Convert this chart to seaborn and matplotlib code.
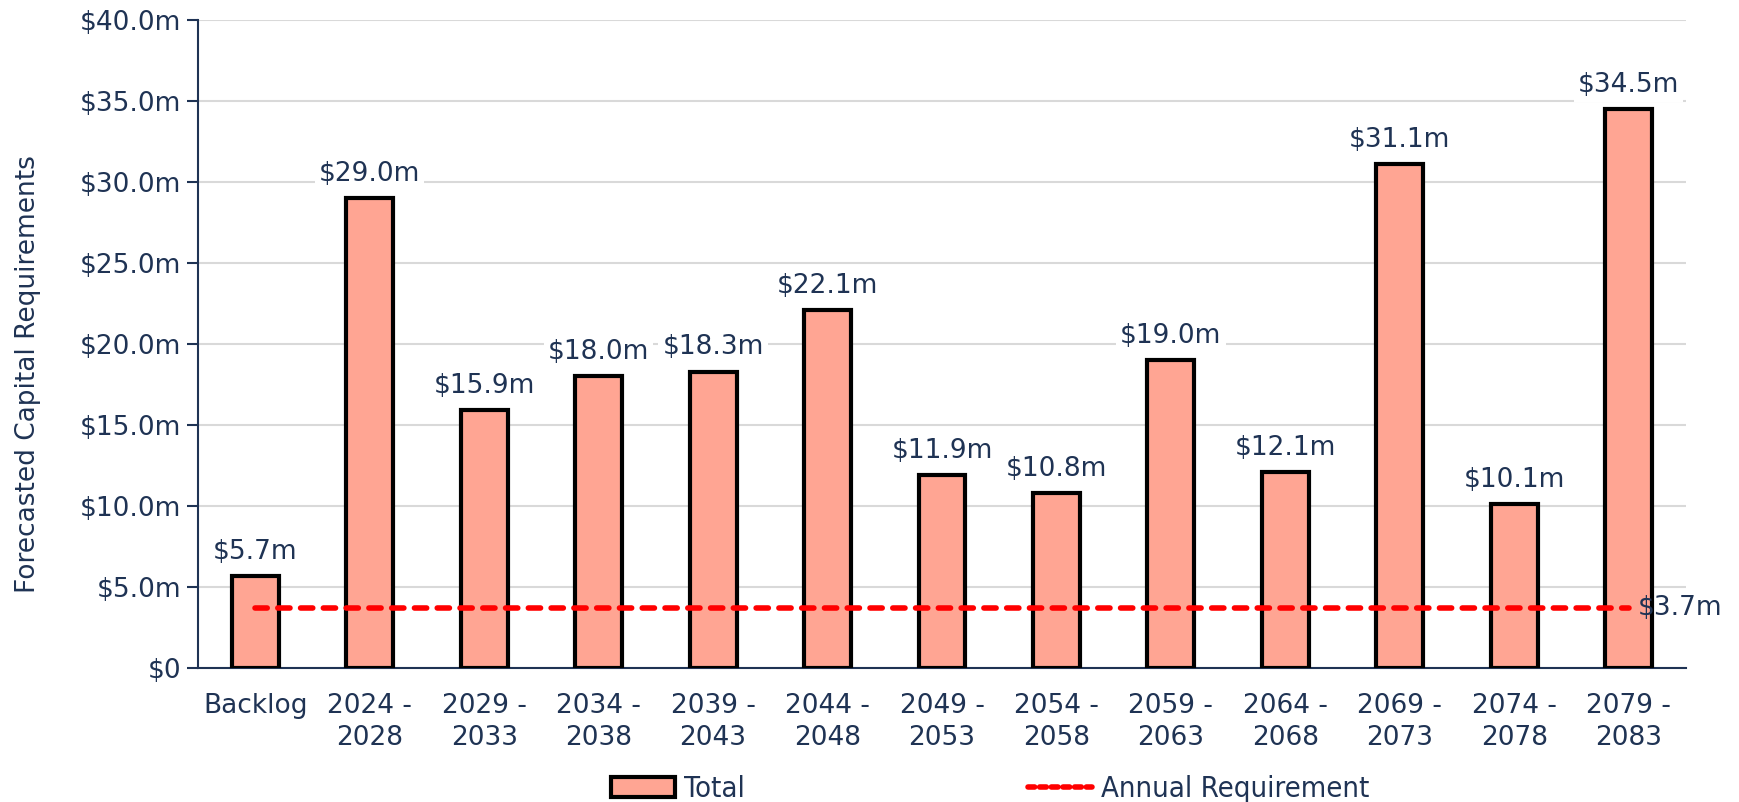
import numpy as np
import pandas as pd
import matplotlib

matplotlib.use("Agg")
import matplotlib.pyplot as plt
import seaborn as sns
from matplotlib.patches import Patch
from matplotlib.lines import Line2D

# data ($m)
periods = ["Backlog", "2024 -\n2028", "2029 -\n2033", "2034 -\n2038", "2039 -\n2043",
           "2044 -\n2048", "2049 -\n2053", "2054 -\n2058", "2059 -\n2063", "2064 -\n2068",
           "2069 -\n2073", "2074 -\n2078", "2079 -\n2083"]
totals = [5.7, 29.0, 15.9, 18.0, 18.3, 22.1, 11.9, 10.8, 19.0, 12.1, 31.1, 10.1, 34.5]
annual_requirement = 3.7
y_ticks = [0, 5, 10, 15, 20, 25, 30, 35, 40]

NAVY = "#1f3354"
FILL = "#ffa593"
FS = 19

sns.set_style("white")
plt.rcParams["font.family"] = ["DejaVu Sans"]
plt.rcParams["text.color"] = NAVY

df = pd.DataFrame({"period": periods, "total": totals})

fig = plt.figure(figsize=(17.39, 8.02), dpi=100)
ax = fig.add_axes([198 / 1739, 1 - 668 / 802, (1686 - 198) / 1739, (668 - 20) / 802])

sns.barplot(data=df, x="period", y="total", color=FILL, saturation=1,
            edgecolor="black", linewidth=3, width=0.41, ax=ax, zorder=3)

# annual requirement line from first to last category centre
xs = np.arange(len(periods))
ax.plot([xs[0], xs[-1]], [annual_requirement] * 2, color="#ff0000", lw=4,
        dashes=(2.2, 1.9), dash_capstyle="round", zorder=4)
ax.text(xs[-1] + 0.08, annual_requirement, f"${annual_requirement:.1f}m",
        va="center", ha="left", fontsize=FS, color=NAVY, zorder=5)

for x, v in zip(xs, totals):
    ax.annotate(f"${v:.1f}m", (x, v), xytext=(0, 8), textcoords="offset points",
                ha="center", va="bottom", fontsize=FS, color=NAVY, zorder=5,
                bbox=dict(boxstyle="square,pad=0.15", fc="white", ec="none"))

ax.set_ylim(0, 40)
ax.set_xlim(-0.5, len(periods) - 0.5)
ax.set_yticks(y_ticks)
ax.set_yticklabels(["$0"] + [f"${t:.1f}m" for t in y_ticks[1:]])
ax.yaxis.grid(True, color="#d9d9d9", lw=1.5, zorder=0)
ax.set_axisbelow(True)

ax.set_xticks(xs)
ax.set_xticklabels(periods, linespacing=1.3)
ax.set_xticks(np.arange(-0.5, len(periods)), minor=True)
ax.tick_params(axis="x", which="major", length=0, pad=18, labelsize=FS, colors=NAVY)
ax.tick_params(axis="x", which="minor", length=8, width=1.5, color=NAVY, direction="out")
ax.tick_params(axis="y", length=8, width=1.5, color=NAVY, labelsize=FS, labelcolor=NAVY,
               direction="out", pad=4, left=True)

for side in ["top", "right"]:
    ax.spines[side].set_visible(False)
for side in ["left", "bottom"]:
    ax.spines[side].set_color(NAVY)
    ax.spines[side].set_linewidth(1.5)

ax.set_xlabel("")
ax.set_ylabel("Forecasted Capital Requirements", fontsize=FS, color=NAVY, labelpad=28)
ax.yaxis.label.set_y(0.454)

handles = [Patch(facecolor=FILL, edgecolor="black", linewidth=3, label="Total"),
           Line2D([0], [0], color="#ff0000", lw=4, dashes=(1.2, 0.9),
                  dash_capstyle="round", label="Annual Requirement")]
fig.legend(handles=handles, loc="center", bbox_to_anchor=(990 / 1739, 1 - 789 / 802),
           ncol=2, frameon=False, prop={"size": 21, "stretch": "condensed"},
           columnspacing=9.7, handlelength=2.2, handletextpad=0.3, labelcolor=NAVY)

plt.savefig("out.png", dpi=100)
plt.close()
